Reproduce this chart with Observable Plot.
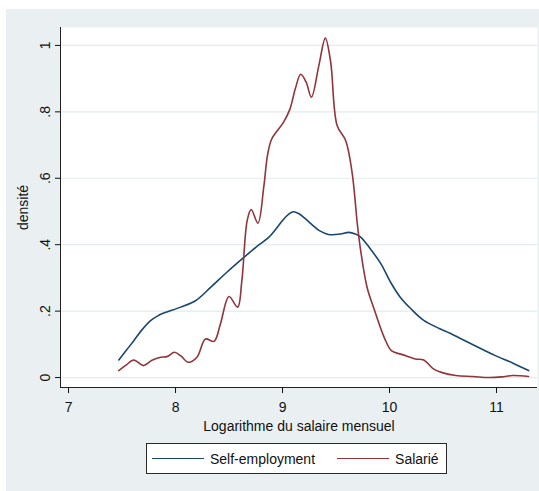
<!DOCTYPE html>
<html>
<head>
<meta charset="utf-8">
<script src="https://cdn.jsdelivr.net/npm/d3@7"></script>
<script src="https://cdn.jsdelivr.net/npm/@observablehq/plot@0.6"></script>
<style>
  html, body { margin: 0; padding: 0; background: #ffffff; }
  #page { position: relative; width: 539px; height: 491px; overflow: hidden; font-family: "Liberation Sans", Arial, sans-serif; }
  #bg { position: absolute; left: 6px; top: 9px; width: 533px; height: 482px; background: #eaf0f2; }
  #chart { position: absolute; left: 0; top: 0; }
  #legend { position: absolute; left: 146px; top: 443px; width: 299px; height: 29px; background: #fff; border: 1px solid #2a2a2a;
            display: flex; align-items: center; font-size: 14px; color: #111; }
  .item { display: flex; align-items: center; }
  .swatch { display: inline-block; width: 52px; height: 0; border-top: 1.5px solid; margin-right: 6px; }
</style>
</head>
<body>
<div id="page">
  <div id="bg"></div>
  <div id="chart"></div>
  <div id="legend"></div>
</div>
<script>
// ---- data ----
const seriesNames = ["Self-employment", "Salarié"];
const seriesColors = ["#1a476f", "#90353b"];

const selfX = [7.47, 7.54, 7.61, 7.69, 7.77, 7.83, 7.89, 8.05, 8.19, 8.33, 8.48, 8.64, 8.75, 8.87, 8.95, 9.00, 9.05, 9.10, 9.15, 9.21, 9.28, 9.34, 9.40, 9.45, 9.54, 9.62, 9.68, 9.73, 9.82, 9.92, 10.01, 10.10, 10.20, 10.32, 10.47, 10.56, 10.71, 10.88, 10.99, 11.15, 11.30];
const selfY = [0.053, 0.082, 0.111, 0.145, 0.172, 0.185, 0.194, 0.212, 0.232, 0.272, 0.317, 0.362, 0.392, 0.422, 0.452, 0.473, 0.490, 0.499, 0.494, 0.479, 0.459, 0.443, 0.434, 0.430, 0.432, 0.437, 0.432, 0.423, 0.388, 0.342, 0.287, 0.242, 0.207, 0.172, 0.147, 0.134, 0.110, 0.083, 0.066, 0.044, 0.021];

const salX = [7.47, 7.54, 7.61, 7.70, 7.78, 7.86, 7.92, 7.99, 8.05, 8.12, 8.20, 8.28, 8.36, 8.42, 8.50, 8.58, 8.62, 8.67, 8.707, 8.77, 8.825, 8.86, 8.90, 9.01, 9.07, 9.12, 9.17, 9.22, 9.27, 9.34, 9.40, 9.45, 9.51, 9.59, 9.65, 9.70, 9.73, 9.79, 9.855, 9.95, 10.02, 10.12, 10.24, 10.32, 10.41, 10.50, 10.62, 10.78, 10.93, 11.05, 11.15, 11.30];
const salY = [0.021, 0.038, 0.053, 0.036, 0.052, 0.061, 0.063, 0.076, 0.065, 0.046, 0.061, 0.116, 0.109, 0.162, 0.244, 0.212, 0.292, 0.473, 0.506, 0.465, 0.575, 0.670, 0.719, 0.769, 0.809, 0.870, 0.913, 0.890, 0.844, 0.940, 1.022, 0.950, 0.759, 0.714, 0.618, 0.460, 0.383, 0.272, 0.207, 0.121, 0.080, 0.069, 0.056, 0.053, 0.026, 0.014, 0.006, 0.003, 0.000, 0.002, 0.006, 0.003];

const xTicks = [7, 8, 9, 10, 11];
const yTicks = [0, 0.2, 0.4, 0.6, 0.8, 1];
const xLabel = "Logarithme du salaire mensuel";
const yLabel = "densité";

// ---- build table ----
const rows = [];
selfX.forEach((x, i) => rows.push({series: seriesNames[0], x, y: selfY[i]}));
salX.forEach((x, i) => rows.push({series: seriesNames[1], x, y: salY[i]}));

const xDomain = [6.925, 11.383];
const yDomain = [-0.030, 1.054];
const fmtY = d => d === 0 ? "0" : String(+d.toFixed(1)).replace(/^0/, "");

const chart = Plot.plot({
  width: 539,
  height: 440,
  marginLeft: 60,
  marginRight: 2,
  marginTop: 27,
  marginBottom: 53,
  style: {fontFamily: "'Liberation Sans', Arial, sans-serif", fontSize: "14px", background: "transparent", color: "#111"},
  x: {domain: xDomain},
  y: {domain: yDomain},
  color: {domain: seriesNames, range: seriesColors},
  marks: [
    Plot.frame({fill: "white", stroke: null}),
    Plot.gridY(yTicks, {stroke: "#e2ebee", strokeOpacity: 1, strokeWidth: 1.2}),
    Plot.ruleX([xDomain[0]], {stroke: "#222"}),
    Plot.ruleY([yDomain[0]], {stroke: "#222"}),
    Plot.axisX(xTicks, {tickSize: 6, tickPadding: 9, label: xLabel, labelAnchor: "center", labelOffset: 43, labelArrow: "none"}),
    Plot.axisY(yTicks, {tickSize: 5, tickPadding: 6, tickRotate: -90, textAnchor: "middle", lineAnchor: "bottom", tickFormat: fmtY,
                        label: yLabel, labelAnchor: "center", labelOffset: 42, labelArrow: "none"}),
    Plot.line(rows, {x: "x", y: "y", z: "series", stroke: "series", curve: "catmull-rom", strokeWidth: 1.6})
  ]
});
document.getElementById("chart").appendChild(chart);

// ---- legend ----
const legend = document.getElementById("legend");
seriesNames.forEach((name, i) => {
  const item = document.createElement("div");
  item.className = "item";
  item.style.marginLeft = i === 0 ? "5px" : "22px";
  const sw = document.createElement("span");
  sw.className = "swatch";
  sw.style.borderColor = seriesColors[i];
  const t = document.createElement("span");
  t.textContent = name;
  item.appendChild(sw);
  item.appendChild(t);
  legend.appendChild(item);
});
</script>
</body>
</html>
